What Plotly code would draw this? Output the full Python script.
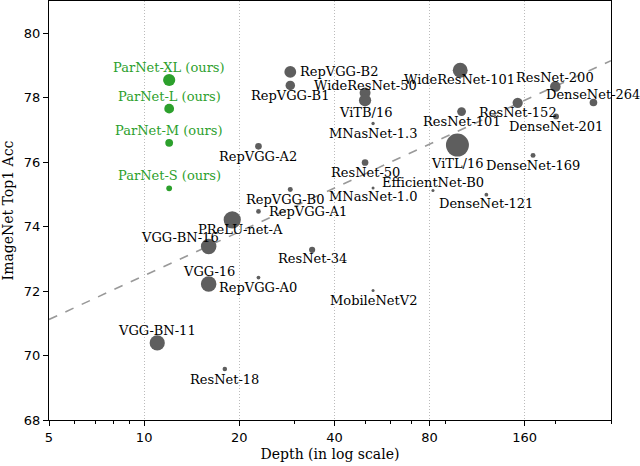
import math
import plotly.graph_objects as go

# ImageNet models: depth, top-1 accuracy, parameters (millions)
names = [
    "RepVGG-B2", "RepVGG-B1", "RepVGG-A2", "RepVGG-B0", "RepVGG-A1", "RepVGG-A0",
    "PReLU-net-A", "VGG-BN-16", "VGG-16", "VGG-BN-11",
    "ResNet-18", "ResNet-34", "ResNet-50", "ResNet-101", "ResNet-152", "ResNet-200",
    "WideResNet-50", "WideResNet-101", "ViTB/16", "ViTL/16",
    "MNasNet-1.3", "MNasNet-1.0", "MobileNetV2", "EfficientNet-B0",
    "DenseNet-121", "DenseNet-169", "DenseNet-201", "DenseNet-264",
]
depth = [
    29, 29, 23, 29, 23, 23,
    19, 16, 16, 11,
    18, 34, 50, 101, 152, 200,
    50, 100, 50, 98,
    53, 53, 53, 82,
    121, 170, 201, 264,
]
acc = [
    78.80, 78.38, 76.49, 75.15, 74.47, 72.42,
    74.21, 73.38, 72.22, 70.39,
    69.58, 73.28, 75.99, 77.57, 77.84, 78.35,
    78.15, 78.85, 77.92, 76.53,
    77.20, 75.20, 72.02, 75.12,
    74.99, 76.21, 77.42, 77.85,
]
params = [
    80.3, 51.8, 25.5, 14.3, 12.8, 8.3,
    170, 138.4, 138.4, 132.9,
    11.7, 21.8, 25.6, 44.5, 60.2, 64.7,
    68.9, 126.9, 86, 304,
    6.3, 4.4, 3.5, 5.3,
    8.0, 14.1, 20.0, 33.3,
]

parnet_names = ["ParNet-XL (ours)", "ParNet-L (ours)", "ParNet-M (ours)", "ParNet-S (ours)"]
parnet_depth = [12, 12, 12, 12]
parnet_acc = [78.55, 77.66, 76.60, 75.19]
parnet_params = [85, 54.9, 35, 19]

# linear fit in log-depth
trend_depth = [5, 300]
trend_acc = [71.12, 79.15]

# label offsets in px (dx, dy, anchor) -- dy positive = down
label_offsets = {
    "RepVGG-B2": (8, 0, "left"),
    "RepVGG-B1": (0, 10, "center"),
    "RepVGG-A2": (0, 10, "center"),
    "RepVGG-B0": (-5, 10, "center"),
    "RepVGG-A1": (9, 0, "left"),
    "RepVGG-A0": (0, 10, "center"),
    "PReLU-net-A": (8, 10, "center"),
    "VGG-BN-16": (-29, -9, "center"),
    "VGG-16": (0, -12, "center"),
    "VGG-BN-11": (0, -12, "center"),
    "ResNet-18": (0, 10, "center"),
    "ResNet-34": (0, 9, "center"),
    "ResNet-50": (0, 10, "center"),
    "ResNet-101": (0, 10, "center"),
    "ResNet-152": (0, 10, "center"),
    "ResNet-200": (0, -9, "center"),
    "WideResNet-50": (0, -7, "center"),
    "WideResNet-101": (-1, 9, "center"),
    "ViTB/16": (0, 12, "center"),
    "ViTL/16": (0, 18, "center"),
    "MNasNet-1.3": (0, 10, "center"),
    "MNasNet-1.0": (0, 9, "center"),
    "MobileNetV2": (0, 10, "center"),
    "EfficientNet-B0": (0, -8, "center"),
    "DenseNet-121": (0, 9, "center"),
    "DenseNet-169": (0, 10, "center"),
    "DenseNet-201": (0, 10, "center"),
    "DenseNet-264": (0, -8, "center"),
}

GRAY = "#5e5e5e"
GREEN = "#2ca02c"
SERIF = "DejaVu Serif"
SIZEREF = 1.15  # area mode

fig = go.Figure()

fig.add_trace(go.Scatter(
    x=trend_depth, y=trend_acc, mode="lines",
    line=dict(color="#999999", width=1.6, dash="dash"),
    hoverinfo="skip", showlegend=False,
))

fig.add_trace(go.Scatter(
    x=depth, y=acc, mode="markers", text=names,
    marker=dict(size=params, sizemode="area", sizeref=SIZEREF, sizemin=1.5,
                color=GRAY, opacity=1, line=dict(width=0)),
    showlegend=False,
))

fig.add_trace(go.Scatter(
    x=parnet_depth, y=parnet_acc, mode="markers", text=parnet_names,
    marker=dict(size=parnet_params, sizemode="area", sizeref=SIZEREF,
                color=GREEN, opacity=1, line=dict(width=0)),
    showlegend=False,
))

# annotations on a log axis take log10(x)
annotations = []
for n, d, a in zip(names, depth, acc):
    dx, dy, anchor = label_offsets[n]
    annotations.append(dict(
        x=math.log10(d), y=a, xref="x", yref="y", text=n, showarrow=False,
        xshift=dx, yshift=-dy, xanchor=anchor, yanchor="middle",
        font=dict(family=SERIF, size=13, color="black"),
    ))
for n, d, a in zip(parnet_names, parnet_depth, parnet_acc):
    annotations.append(dict(
        x=math.log10(d), y=a, xref="x", yref="y", text=n, showarrow=False,
        xshift=0, yshift=12.5, xanchor="center", yanchor="middle",
        font=dict(family=SERIF, size=13, color=GREEN),
    ))

axis_common = dict(
    showline=True, linecolor="black", linewidth=1.3, mirror=True,
    ticks="outside", ticklen=5, tickcolor="black",
    tickfont=dict(family="DejaVu Sans", size=13, color="black"),
    zeroline=False,
)

fig.update_xaxes(
    type="log", range=[math.log10(5), math.log10(300)],
    tickvals=[5, 10, 20, 40, 80, 160], ticktext=["5", "10", "20", "40", "80", "160"],
    showgrid=True, gridcolor="#bbbbbb", griddash="1px,2px", gridwidth=1,
    minor=dict(tickvals=[6, 7, 8, 9, 30, 50, 60, 70, 90, 200, 300],
               ticks="outside", ticklen=3, tickcolor="black", showgrid=False),
    title=dict(text="Depth (in log scale)", font=dict(family=SERIF, size=14, color="black"),
               standoff=5),
    **axis_common,
)
fig.update_yaxes(
    range=[68, 81], tickvals=[68, 70, 72, 74, 76, 78, 80],
    showgrid=False,
    title=dict(text="ImageNet Top1 Acc", font=dict(family=SERIF, size=14, color="black"),
               standoff=6),
    **axis_common,
)

fig.update_layout(
    width=640, height=466,
    margin=dict(l=49, r=29, t=1, b=46),
    plot_bgcolor="white", paper_bgcolor="white",
    annotations=annotations,
)

# drop the browser's default body margin so the figure sits at the page corner
fig.write_html("out.html", config={"displayModeBar": False},
               post_script="document.body.style.margin='0';")
